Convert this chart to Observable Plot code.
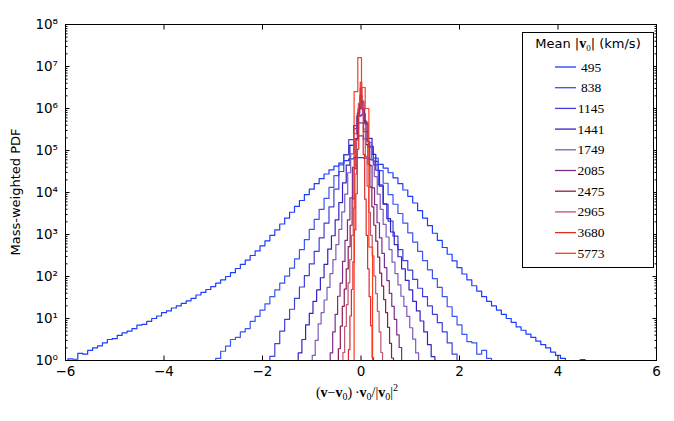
<!DOCTYPE html>
<html><head><meta charset="utf-8">
<script src="https://cdn.jsdelivr.net/npm/d3@7"></script>
<script src="https://cdn.jsdelivr.net/npm/@observablehq/plot@0.6"></script>
<style>body{margin:0;background:#fff}#chart{width:674px;height:421px}</style>
</head><body><div id="chart"></div>
<script>
// Legend labels: mean |v0| (km/s)
const labels = ["495","838","1145","1441","1749","2085","2475","2965","3680","5773"];
const colors = ["#1c3cff","#3a55f0","#3f3fdc","#3322c4","#7d5cbc","#7d2e8c","#8e1a4e","#c05472","#e02a2a","#ff3c1e"];
// first bin edge and bin width of each histogram (x units)
const binStart = [-5.95,-2.95,-1.85,-1.275,-0.99,-0.625,-0.46,-0.3675,-0.255,-0.14];
const binWidth = [0.1,0.1,0.1,0.075,0.06,0.05,0.04,0.035,0.03,0.075];
// log10 of mass-weighted PDF per bin (-1 = empty bin)
const pdf495 = [0.04,0.03,0.17,0.15,0.24,0.3,0.35,0.42,0.5,0.52,0.6,0.66,0.7,0.76,0.84,0.86,0.93,1.0,1.06,1.14,
 1.18,1.25,1.3,1.36,1.42,1.48,1.56,1.62,1.69,1.76,1.84,1.92,2.0,2.09,2.19,2.29,2.39,2.5,2.61,2.73,
 2.85,2.98,3.11,3.25,3.39,3.53,3.67,3.81,3.95,4.08,4.21,4.33,4.44,4.54,4.63,4.7,4.76,4.8,4.83,4.83,
 4.82,4.79,4.74,4.67,4.58,4.47,4.35,4.21,4.06,3.91,3.75,3.57,3.39,3.21,3.03,2.86,2.69,2.53,2.37,2.21,
 2.06,1.92,1.78,1.65,1.52,1.41,1.3,1.2,1.1,1.0,0.91,0.8,0.72,0.63,0.55,0.46,0.38,0.3,0.2,0.12,0.05,-1,-1,-1,0.02];
const pdf838 = [0.05,0.22,0.34,0.5,0.55,0.68,0.76,0.93,1.05,1.2,1.35,1.52,1.68,1.84,2.01,2.2,2.42,2.64,2.88,3.12,
 3.36,3.6,3.86,4.12,4.4,4.66,4.9,5.12,5.28,5.35,
 5.27,5.08,4.82,4.52,4.22,3.95,3.72,3.5,3.27,3.04,2.82,2.6,2.38,2.16,1.95,1.74,1.52,1.28,1.05,0.85,0.62,0.45,0.42,0.15,0.24,0.05];
const pdf1145 = [0.1,0.4,0.7,0.98,1.22,1.48,1.75,2.02,2.3,2.6,2.92,3.27,3.66,4.08,4.5,4.9,5.26,5.52,5.66,
 5.45,5.1,4.66,4.18,3.72,3.32,2.96,2.64,2.38,2.15,1.93,1.72,1.52,1.3,1.1,0.9,0.68,0.42,0.15];
const pdf1441 = [0.18,0.5,0.85,1.12,1.41,1.68,1.97,2.29,2.65,2.97,3.35,3.76,4.23,4.65,5.12,5.59,5.82,
 5.85,5.64,5.29,4.91,4.53,4.15,3.73,3.38,3.06,2.76,2.47,2.18,1.91,1.68,1.41,1.18,0.94,0.68,0.38,0.09];
const pdf1749 = [0.12,0.48,0.87,1.14,1.44,1.74,2.07,2.4,2.76,3.12,3.54,3.96,4.47,4.92,5.4,5.82,6.0,
 5.88,5.64,5.19,4.77,4.38,3.96,3.6,3.24,2.94,2.64,2.34,2.07,1.8,1.53,1.29,1.05,0.78,0.51,0.18];
const pdf2085 = [0.18,0.68,1.1,1.53,1.84,2.36,2.86,3.35,3.87,4.6,5.28,5.89,6.14,
 5.99,5.68,5.22,4.64,4.11,3.71,3.28,2.92,2.55,2.21,1.9,1.6,1.29,0.98,0.61,0.31];
const pdf2475 = [0.28,0.82,1.29,1.7,2.18,2.71,3.22,3.85,4.57,5.27,5.99,6.31,
 6.15,5.71,5.14,4.67,4.13,3.66,3.22,2.84,2.46,2.08,1.77,1.45,1.14,0.79,0.41,0.06];
const pdf2965 = [0.19,0.81,1.33,1.85,2.4,2.98,3.63,4.44,5.25,6.12,6.48,
 6.19,5.51,4.86,4.15,3.53,2.98,2.49,2.01,1.59,1.17,0.68,0.19];
const pdf3680 = [0.26,1.06,1.69,2.35,3.11,3.97,5.03,6.02,6.62,5.99,4.9,3.84,2.98,2.18,1.52,0.83,0.07];
const pdf5773 = [6.4,7.21,6.5,6.0,2.7];
const pdfs = [pdf495,pdf838,pdf1145,pdf1441,pdf1749,pdf2085,pdf2475,pdf2965,pdf3680,pdf5773];
const xTicks = [-6,-4,-2,0,2,4,6];
const yMajor = [1,1e1,1e2,1e3,1e4,1e5,1e6,1e7,1e8];
const yMinor = d3.range(0,8).flatMap(k => d3.range(2,10).map(m => m*Math.pow(10,k)));

const rows = [];
pdfs.forEach((vals,i) => {
  const s = binStart[i], w = binWidth[i], n = vals.length;
  rows.push({k:i, x:s, y:0.05});
  vals.forEach((v,j) => rows.push({k:i, x:s+j*w, y:Math.pow(10,v)}));
  rows.push({k:i, x:s+n*w, y:Math.pow(10,vals[n-1])});
  rows.push({k:i, x:s+n*w, y:0.05});
});

const sup = {"0":"\u2070","1":"\u00b9","2":"\u00b2","3":"\u00b3","4":"\u2074","5":"\u2075","6":"\u2076","7":"\u2077","8":"\u2078","9":"\u2079"};
const fmtY = d => "10" + String(Math.round(Math.log10(d))).split("").map(c=>sup[c]).join("");
const fmtX = d => d < 0 ? "\u2212" + (-d) : String(d);
const empty = () => "";

const plot = Plot.plot({
  width: 674, height: 421,
  marginLeft: 65, marginRight: 18, marginTop: 24, marginBottom: 61,
  x: {domain: [-6, 6]},
  y: {type: "log", domain: [1, 1e8]},
  style: {fontFamily: "DejaVu Sans", fontSize: "13.5px", color: "black", background: "white", overflow: "visible"},
  marks: [
    ...pdfs.map((_,i) => Plot.line(rows.filter(r => r.k === i), {x:"x", y:"y", curve:"step-after", stroke: colors[i], strokeWidth: 1.2, clip: true})),
    Plot.frame({stroke: "black", strokeWidth: 1}),
    Plot.axisX({ticks: xTicks, tickSize: -4.5, tickPadding: 10.5, tickFormat: fmtX, label: null}),
    Plot.axisX({anchor: "top", ticks: xTicks, tickSize: -4.5, tickFormat: empty, label: null}),
    Plot.axisY({ticks: yMajor, tickSize: -4.5, tickPadding: 12, tickFormat: fmtY, label: null}),
    Plot.axisY({ticks: yMinor, tickSize: -2.5, tickFormat: empty, label: null}),
    Plot.axisY({anchor: "right", ticks: yMajor, tickSize: -4.5, tickFormat: empty, label: null}),
    Plot.axisY({anchor: "right", ticks: yMinor, tickSize: -2.5, tickFormat: empty, label: null})
  ]
});
document.getElementById("chart").appendChild(plot);

const svg = d3.select(plot);
// y label
svg.append("text").attr("transform","translate(20,192) rotate(-90)").attr("text-anchor","middle")
  .attr("font-family","DejaVu Sans").attr("font-size",13).attr("fill","black").text("Mass-weighted PDF");
// x label (math)
const xl = svg.append("text").attr("x",357).attr("y",397).attr("text-anchor","middle")
  .attr("font-family","Liberation Serif").attr("font-size",14).attr("fill","black");
const parts = [["(",0],["v",1],["\u2212",0],["v",1],["0",2],[")\u2009\u00b7",0],["v",1],["0",2],["/|",0],["v",1],["0",2],["|",0],["2",3]];
let shift = 0;
parts.forEach(([t,kind]) => {
  const ts = xl.append("tspan").text(t);
  const target = kind===2 ? 3 : kind===3 ? -6 : 0;
  ts.attr("dy", target - shift); shift = target;
  if (kind===1) ts.attr("font-weight","bold");
  if (kind>=2) ts.attr("font-size",10);
});
// legend
const lg = svg.append("g");
lg.append("rect").attr("x",522.5).attr("y",32.5).attr("width",131).attr("height",235).attr("fill","white").attr("stroke","black").attr("stroke-width",1);
const tt = lg.append("text").attr("x",588).attr("y",48).attr("text-anchor","middle").attr("font-family","DejaVu Sans").attr("font-size",13).attr("fill","black");
tt.append("tspan").text("Mean |");
tt.append("tspan").text("v").attr("font-family","Liberation Serif").attr("font-weight","bold").attr("font-size",14);
tt.append("tspan").text("0").attr("font-family","Liberation Serif").attr("font-size",9).attr("dy",3);
tt.append("tspan").text("| (km/s)").attr("dy",-3);
labels.forEach((lab,i) => {
  const y = 67 + i*20.7;
  lg.append("line").attr("x1",555).attr("x2",576).attr("y1",y).attr("y2",y).attr("stroke",colors[i]).attr("stroke-width",1.3);
  lg.append("text").attr("x",591).attr("y",y+4.5).attr("font-family","Liberation Serif").attr("font-size",13.5).attr("fill","black").text(lab);
});
</script></body></html>
